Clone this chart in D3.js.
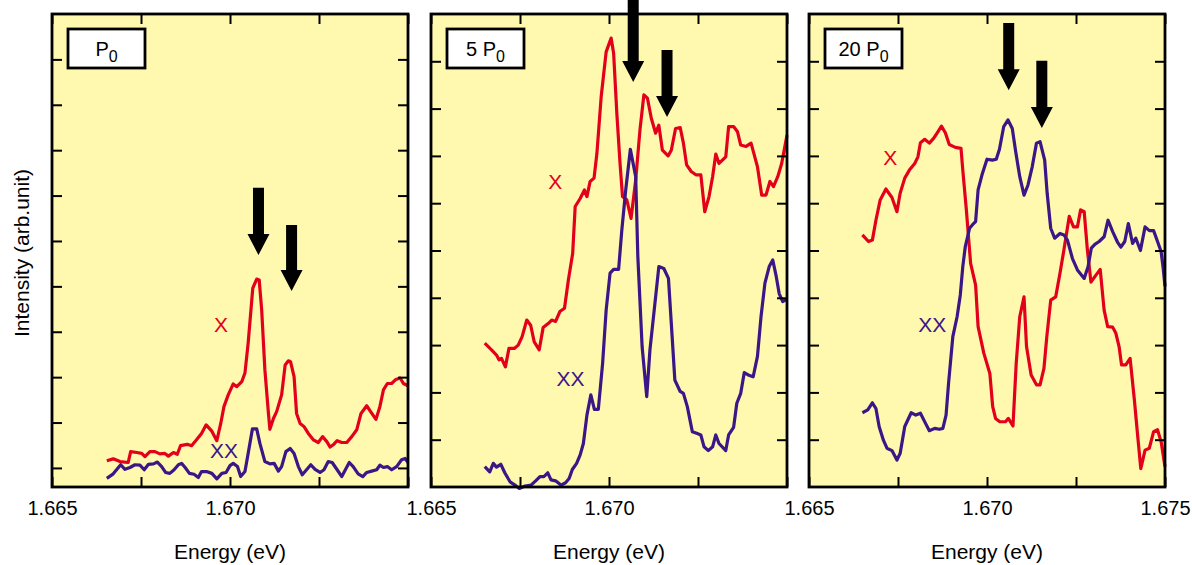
<!DOCTYPE html>
<html>
<head>
<meta charset="utf-8">
<script src="https://cdn.jsdelivr.net/npm/d3@7"></script>
<style>
  body { margin: 0; background: #fff; }
  text { font-family: "Liberation Sans", Arial, Helvetica, sans-serif; }
</style>
</head>
<body>
<script>
// energy axis
const energyDomain = [1.665, 1.675];
const energyTicks = [1.665, 1.6675, 1.67, 1.6725, 1.675];

// panel titles (P with subscript 0)
const titles = ["P", "5 P", "20 P"];

// P0 : X (red) and XX (purple), [energy eV, intensity]
const p1X = [
  [1.66654,0.16],[1.66672,0.20],[1.66691,0.14],[1.66714,0.12],[1.66721,0.36],[1.66738,0.34],[1.66752,0.32],[1.66761,0.25],
  [1.66775,0.36],[1.66789,0.36],[1.66803,0.31],[1.66817,0.32],[1.66827,0.26],[1.66841,0.34],[1.66852,0.30],[1.66861,0.49],
  [1.66880,0.52],[1.66892,0.49],[1.66906,0.62],[1.66920,0.76],[1.66933,0.95],[1.66949,0.81],[1.66963,0.60],[1.66974,0.98],
  [1.66983,1.35],[1.66995,1.61],[1.67009,1.85],[1.67019,1.79],[1.67033,1.90],[1.67042,2.09],[1.67051,2.75],[1.67064,3.96],
  [1.67075,4.16],[1.67082,4.14],[1.67089,3.48],[1.67098,2.16],[1.67108,1.20],[1.67112,0.85],[1.67122,1.09],[1.67131,1.24],
  [1.67145,1.61],[1.67155,2.27],[1.67164,2.36],[1.67170,2.34],[1.67180,2.01],[1.67187,1.20],[1.67197,0.98],[1.67208,0.91],
  [1.67220,0.76],[1.67234,0.62],[1.67248,0.56],[1.67260,0.69],[1.67272,0.58],[1.67281,0.46],[1.67290,0.51],[1.67301,0.60],
  [1.67314,0.56],[1.67328,0.56],[1.67342,0.69],[1.67356,0.84],[1.67368,1.20],[1.67384,1.37],[1.67395,1.24],[1.67410,1.07],
  [1.67421,1.35],[1.67431,1.72],[1.67442,1.86],[1.67454,1.86],[1.67466,1.95],[1.67478,1.98],[1.67487,1.86],[1.67500,1.81]
];
const p1XX = [
  [1.66654,-0.23],[1.66672,-0.13],[1.66693,0.07],[1.66705,-0.03],[1.66719,0.01],[1.66733,0.07],[1.66747,0.06],[1.66759,-0.04],
  [1.66771,0.08],[1.66785,0.09],[1.66796,0.13],[1.66808,0.03],[1.66819,-0.10],[1.66831,-0.12],[1.66843,-0.04],[1.66855,0.07],
  [1.66864,0.10],[1.66874,0.01],[1.66886,-0.12],[1.66899,-0.14],[1.66911,-0.21],[1.66920,-0.08],[1.66934,-0.08],[1.66949,-0.12],
  [1.66963,-0.24],[1.66977,-0.12],[1.66989,-0.10],[1.67000,0.05],[1.67009,0.10],[1.67021,0.03],[1.67030,-0.19],[1.67042,-0.08],
  [1.67051,0.32],[1.67063,0.86],[1.67075,0.86],[1.67084,0.54],[1.67098,0.14],[1.67112,0.09],[1.67124,0.10],[1.67136,-0.07],
  [1.67145,0.03],[1.67157,0.36],[1.67169,0.43],[1.67180,0.32],[1.67192,0.03],[1.67203,-0.15],[1.67215,-0.04],[1.67227,0.07],
  [1.67239,-0.03],[1.67253,-0.10],[1.67264,-0.04],[1.67276,0.14],[1.67287,0.12],[1.67301,-0.04],[1.67314,-0.19],[1.67326,-0.01],
  [1.67335,0.12],[1.67346,0.03],[1.67360,-0.13],[1.67373,-0.19],[1.67384,-0.10],[1.67398,-0.07],[1.67412,-0.04],[1.67421,0.06],
  [1.67431,0.01],[1.67442,0.03],[1.67454,-0.04],[1.67468,0.03],[1.67482,0.18],[1.67492,0.21],[1.67500,0.12]
];

// 5 P0
const p2X = [
  [1.66651,3.04],[1.66670,2.90],[1.66684,2.79],[1.66691,2.69],[1.66698,2.72],[1.66709,2.54],[1.66719,2.93],[1.66734,2.93],
  [1.66745,3.00],[1.66756,3.18],[1.66769,3.53],[1.66780,3.42],[1.66790,3.07],[1.66804,2.90],[1.66815,3.37],[1.66830,3.46],
  [1.66839,3.53],[1.66850,3.50],[1.66862,3.71],[1.66875,3.78],[1.66886,4.38],[1.66898,4.94],[1.66905,5.93],[1.66919,6.10],
  [1.66931,6.28],[1.66938,6.14],[1.66947,6.46],[1.66958,6.53],[1.66966,7.05],[1.66978,8.25],[1.66992,9.20],[1.67006,9.49],
  [1.67013,9.17],[1.67022,7.90],[1.67031,6.84],[1.67038,6.14],[1.67050,6.07],[1.67062,5.68],[1.67075,6.49],[1.67087,7.55],
  [1.67098,8.29],[1.67108,8.22],[1.67119,7.79],[1.67131,7.48],[1.67140,7.65],[1.67150,7.12],[1.67166,7.00],[1.67175,7.12],
  [1.67187,7.58],[1.67200,7.60],[1.67209,7.27],[1.67218,6.81],[1.67231,6.67],[1.67244,6.60],[1.67258,6.60],[1.67269,5.82],
  [1.67281,6.14],[1.67291,6.56],[1.67300,7.04],[1.67309,6.84],[1.67328,6.98],[1.67336,7.62],[1.67350,7.62],[1.67361,7.51],
  [1.67370,7.23],[1.67385,7.20],[1.67399,7.27],[1.67408,7.02],[1.67417,6.77],[1.67429,6.17],[1.67441,6.17],[1.67452,6.46],
  [1.67462,6.35],[1.67474,6.56],[1.67485,6.84],[1.67500,7.44]
];
const p2XX = [
  [1.66651,0.43],[1.66665,0.32],[1.66675,0.50],[1.66684,0.42],[1.66696,0.48],[1.66708,0.29],[1.66722,0.11],[1.66736,0.04],
  [1.66748,-0.03],[1.66764,0.02],[1.66781,0.04],[1.66794,0.13],[1.66806,0.22],[1.66817,0.22],[1.66828,0.30],[1.66837,0.15],
  [1.66850,0.13],[1.66865,0.04],[1.66878,0.09],[1.66888,0.18],[1.66897,0.37],[1.66909,0.50],[1.66919,0.68],[1.66928,0.92],
  [1.66938,1.52],[1.66949,1.95],[1.66959,1.64],[1.66970,1.64],[1.66982,2.61],[1.66992,3.74],[1.67003,4.52],[1.67013,4.60],
  [1.67027,4.60],[1.67036,5.43],[1.67047,6.28],[1.67060,7.14],[1.67075,6.56],[1.67081,4.87],[1.67093,2.97],[1.67106,1.91],
  [1.67115,2.90],[1.67126,3.67],[1.67140,4.66],[1.67154,4.62],[1.67167,4.41],[1.67175,3.46],[1.67185,2.26],[1.67200,2.02],
  [1.67209,1.98],[1.67220,1.70],[1.67234,1.17],[1.67248,1.13],[1.67258,1.10],[1.67267,0.85],[1.67279,0.77],[1.67291,0.85],
  [1.67300,1.10],[1.67309,0.92],[1.67328,0.77],[1.67336,1.10],[1.67350,1.26],[1.67359,1.77],[1.67370,1.98],[1.67380,2.42],
  [1.67391,2.37],[1.67405,2.33],[1.67417,2.76],[1.67427,3.60],[1.67438,4.31],[1.67450,4.66],[1.67460,4.80],[1.67469,4.48],
  [1.67478,4.09],[1.67488,3.92],[1.67500,3.97]
];

// 20 P0
const p3X = [
  [1.66650,5.33],[1.66667,5.19],[1.66678,5.22],[1.66688,5.64],[1.66700,6.07],[1.66716,6.30],[1.66733,6.12],[1.66747,5.82],
  [1.66756,6.21],[1.66769,6.53],[1.66782,6.70],[1.66797,6.84],[1.66806,6.98],[1.66813,7.28],[1.66825,7.35],[1.66838,7.27],
  [1.66850,7.37],[1.66862,7.51],[1.66872,7.63],[1.66883,7.49],[1.66894,7.24],[1.66911,7.18],[1.66927,7.16],[1.66932,6.70],
  [1.66942,5.86],[1.66954,4.73],[1.66968,4.27],[1.66975,3.39],[1.66991,2.83],[1.67008,2.40],[1.67016,1.70],[1.67024,1.45],
  [1.67036,1.38],[1.67052,1.38],[1.67060,1.45],[1.67073,1.29],[1.67082,2.61],[1.67092,3.60],[1.67104,4.02],[1.67111,2.97],
  [1.67124,2.37],[1.67139,2.16],[1.67149,2.16],[1.67160,2.51],[1.67168,3.18],[1.67179,3.95],[1.67193,4.02],[1.67205,4.52],
  [1.67216,5.01],[1.67231,5.72],[1.67243,5.50],[1.67254,5.50],[1.67263,5.86],[1.67273,5.82],[1.67282,5.01],[1.67292,4.33],
  [1.67306,4.48],[1.67318,4.60],[1.67329,3.74],[1.67339,3.39],[1.67353,3.38],[1.67362,3.25],[1.67371,2.97],[1.67378,2.58],
  [1.67390,2.58],[1.67402,2.72],[1.67414,1.84],[1.67423,1.10],[1.67432,0.39],[1.67444,0.78],[1.67456,0.82],[1.67468,1.17],
  [1.67479,1.21],[1.67489,0.96],[1.67500,0.43]
];
const p3XX = [
  [1.66650,1.57],[1.66665,1.63],[1.66678,1.78],[1.66688,1.66],[1.66697,1.28],[1.66709,0.99],[1.66719,0.82],[1.66733,0.77],
  [1.66747,0.57],[1.66756,0.71],[1.66769,1.28],[1.66787,1.57],[1.66800,1.52],[1.66813,1.56],[1.66827,1.35],[1.66838,1.19],
  [1.66853,1.24],[1.66866,1.22],[1.66876,1.24],[1.66885,1.52],[1.66892,2.19],[1.66904,3.18],[1.66916,3.60],[1.66925,4.06],
  [1.66932,4.66],[1.66939,5.08],[1.66951,5.47],[1.66960,5.55],[1.66968,5.61],[1.66975,6.28],[1.66986,6.60],[1.67000,6.93],
  [1.67015,6.91],[1.67026,6.93],[1.67035,7.14],[1.67047,7.62],[1.67059,7.76],[1.67071,7.58],[1.67080,7.12],[1.67092,6.56],
  [1.67104,6.17],[1.67115,6.38],[1.67127,6.77],[1.67139,7.27],[1.67149,7.30],[1.67162,6.91],[1.67169,6.21],[1.67179,5.47],
  [1.67190,5.26],[1.67205,5.36],[1.67216,5.33],[1.67226,5.22],[1.67240,4.83],[1.67254,4.59],[1.67273,4.41],[1.67284,4.66],
  [1.67293,5.05],[1.67303,5.13],[1.67315,5.19],[1.67329,5.29],[1.67340,5.64],[1.67353,5.40],[1.67367,5.17],[1.67376,5.07],
  [1.67387,5.19],[1.67397,5.57],[1.67409,5.15],[1.67418,5.26],[1.67431,5.00],[1.67444,5.50],[1.67456,5.42],[1.67468,5.42],
  [1.67479,5.19],[1.67489,4.98],[1.67495,4.62],[1.67500,4.24]
];

// arrows: [energy, intensity at tail, intensity at tip]
const p1Arrows = [[1.67080, 6.17, 4.69], [1.67173, 5.35, 3.90]];
const p2Arrows = [[1.67068, 10.30, 8.56], [1.67163, 9.24, 7.82]];
const p3Arrows = [[1.67061, 9.81, 8.39], [1.67154, 9.01, 7.59]];

// series labels: [text, energy, intensity]
const p1Labels = [["X", 1.66975, 3.00], ["XX", 1.66983, 0.22]];
const p2Labels = [["X", 1.66849, 6.30], ["XX", 1.66892, 2.14]];
const p3Labels = [["X", 1.66728, 6.81], ["XX", 1.66846, 3.28]];

const red = "#e3001b", purple = "#3b1687", bg = "#fff9b0";

const panels = [
  {title: titles[0], x: p1X, xx: p1XX, arrows: p1Arrows, labels: p1Labels, yDomain: [-0.42, 10], yTicks: d3.range(0, 10), xLabels: [1.665, 1.67]},
  {title: titles[1], x: p2X, xx: p2XX, arrows: p2Arrows, labels: p2Labels, yDomain: [0, 10], yTicks: d3.range(1, 10), xLabels: [1.665, 1.67]},
  {title: titles[2], x: p3X, xx: p3XX, arrows: p3Arrows, labels: p3Labels, yDomain: [0, 10], yTicks: d3.range(1, 10), xLabels: [1.665, 1.67, 1.675]}
];

const lefts = [52, 431, 809];
const W = 356, panelTop = 14, H = 473;

const svg = d3.select("body").append("svg")
  .attr("width", 1192)
  .attr("height", 565);

svg.append("text")
  .attr("transform", `translate(29,253) rotate(-90)`)
  .attr("text-anchor", "middle")
  .attr("font-size", "21px")
  .text("Intensity (arb.unit)");

panels.forEach((p, i) => {
  const g = svg.append("g").attr("transform", `translate(${lefts[i]},${panelTop})`);
  const x = d3.scaleLinear().domain(energyDomain).range([0, W]);
  const y = d3.scaleLinear().domain(p.yDomain).range([H, 0]);

  g.append("rect").attr("width", W).attr("height", H).attr("fill", bg);

  const line = d3.line().x(d => x(d[0])).y(d => y(d[1]));
  [[p.x, red], [p.xx, purple]].forEach(([data, color]) => {
    g.append("path")
      .datum(data)
      .attr("d", line)
      .attr("fill", "none")
      .attr("stroke", color)
      .attr("stroke-width", 3.2)
      .attr("stroke-linejoin", "round");
  });

  // axes, ticks inward on all four sides
  const fmt = d3.format(".3f");
  const bottomAxis = g.append("g")
    .attr("transform", `translate(0,${H})`)
    .call(d3.axisBottom(x).tickValues(energyTicks).tickSize(-10).tickPadding(14)
      .tickFormat(d => p.xLabels.some(v => Math.abs(v - d) < 1e-6) ? fmt(d) : ""));
  g.append("g").call(d3.axisTop(x).tickValues(energyTicks).tickSize(-10).tickFormat(""));
  g.append("g").call(d3.axisLeft(y).tickValues(p.yTicks).tickSize(-10).tickFormat(""));
  g.append("g").attr("transform", `translate(${W},0)`)
    .call(d3.axisRight(y).tickValues(p.yTicks).tickSize(-10).tickFormat(""));
  g.selectAll(".domain").remove();
  g.selectAll(".tick line").attr("stroke", "#000").attr("stroke-width", 2);
  bottomAxis.selectAll("text")
    .attr("font-size", "20px")
    .attr("font-family", "'Liberation Sans', Arial, sans-serif")
    .attr("fill", "#000");

  g.append("rect")
    .attr("width", W).attr("height", H)
    .attr("fill", "none").attr("stroke", "#000").attr("stroke-width", 2.8);

  // legend box
  g.append("rect")
    .attr("x", 16).attr("y", 15).attr("width", 77).attr("height", 39)
    .attr("fill", "#fff").attr("stroke", "#000").attr("stroke-width", 2.8);
  const t = g.append("text")
    .attr("x", 54.5).attr("y", 42)
    .attr("text-anchor", "middle")
    .attr("font-size", "20px");
  t.append("tspan").text(p.title);
  t.append("tspan").attr("font-size", "16px").attr("dy", 6).text("0");

  // arrows
  p.arrows.forEach(([e, v0, v1]) => {
    const cx = x(e), y0 = y(v0), y1 = y(v1), hl = 21, sw = 5.5, hw = 11;
    g.append("path")
      .attr("d", `M${cx - sw},${y0}L${cx + sw},${y0}L${cx + sw},${y1 - hl}L${cx + hw},${y1 - hl}L${cx},${y1}L${cx - hw},${y1 - hl}L${cx - sw},${y1 - hl}Z`)
      .attr("fill", "#000");
  });

  // series labels
  p.labels.forEach(([s, e, v], k) => {
    g.append("text")
      .attr("x", x(e)).attr("y", y(v))
      .attr("text-anchor", "middle")
      .attr("font-size", "21px")
      .attr("fill", k === 0 ? red : purple)
      .text(s);
  });

  g.append("text")
    .attr("x", W / 2).attr("y", 545)
    .attr("text-anchor", "middle")
    .attr("font-size", "21px")
    .text("Energy (eV)");
});
</script>
</body>
</html>
